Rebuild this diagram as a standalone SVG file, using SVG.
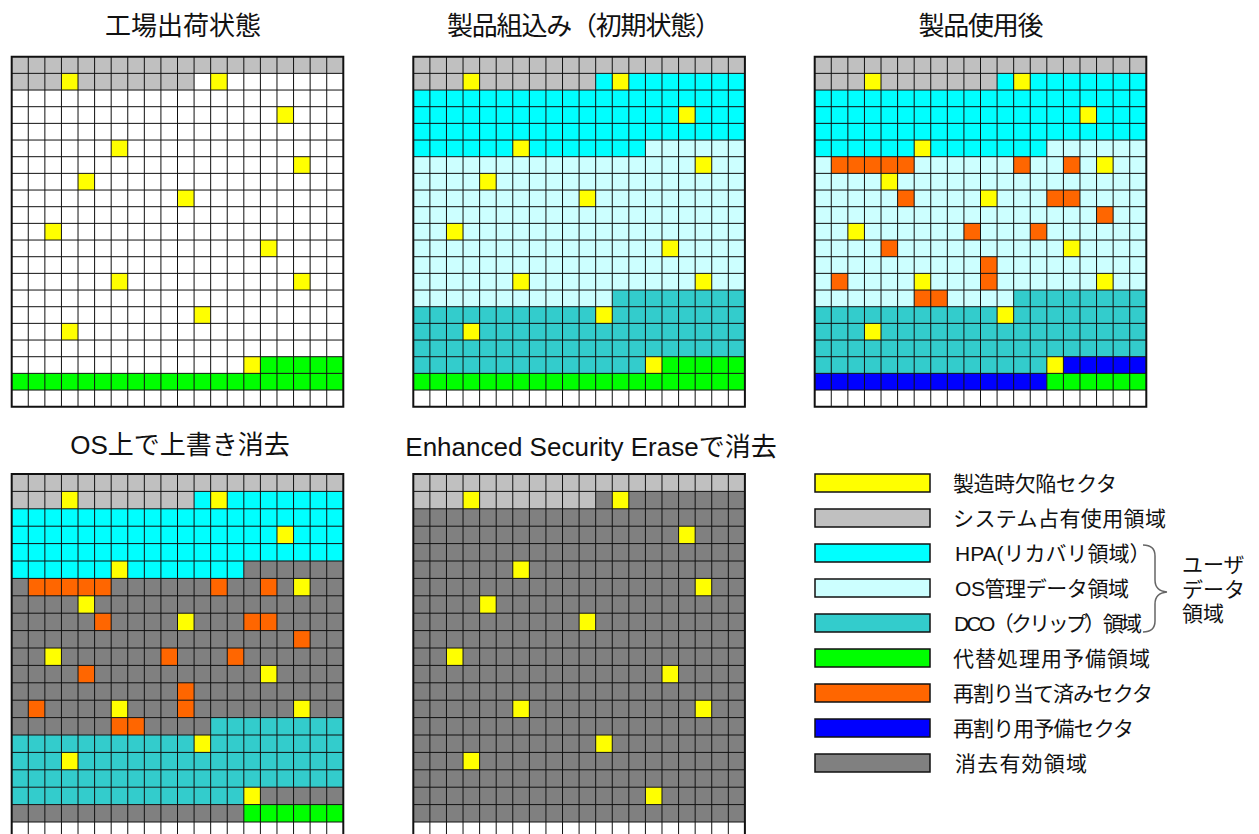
<svg xmlns="http://www.w3.org/2000/svg" xmlns:xlink="http://www.w3.org/1999/xlink" width="1259" height="834" viewBox="0 0 1259 834">
<style>
.t{font-family:"Liberation Sans","Noto Sans CJK JP",sans-serif;fill:#111}
.title{font-size:26px;text-anchor:middle}
.lg{font-size:21px}
.gl{fill:none;stroke:#111;stroke-width:1}
.bd{fill:none;stroke:#111;stroke-width:2}
.w{fill:#FFFFFF}.y{fill:#FFFF00}.g{fill:#C0C0C0}.c{fill:#00FFFF}.lc{fill:#CCFFFF}.tl{fill:#33CCCC}.gr{fill:#00FF00}.o{fill:#FF6600}.b{fill:#0000FF}.d{fill:#808080}
.sw{stroke:#111;stroke-width:1.5}
.brace{fill:none;stroke:#666;stroke-width:1.5}
</style>
<defs>
<path id="lines" class="gl" vector-effect="non-scaling-stroke" d="M0,1H20M0,2H20M0,3H20M0,4H20M0,5H20M0,6H20M0,7H20M0,8H20M0,9H20M0,10H20M0,11H20M0,12H20M0,13H20M0,14H20M0,15H20M0,16H20M0,17H20M0,18H20M0,19H20M0,20H20M1,0V21M2,0V21M3,0V21M4,0V21M5,0V21M6,0V21M7,0V21M8,0V21M9,0V21M10,0V21M11,0V21M12,0V21M13,0V21M14,0V21M15,0V21M16,0V21M17,0V21M18,0V21M19,0V21"/>
<rect id="border" class="bd" vector-effect="non-scaling-stroke" width="20" height="21"/>
<g id="defects" class="y">
<rect x="3" y="1" width="1" height="1"/><rect x="12" y="1" width="1" height="1"/><rect x="16" y="3" width="1" height="1"/><rect x="6" y="5" width="1" height="1"/><rect x="17" y="6" width="1" height="1"/><rect x="4" y="7" width="1" height="1"/><rect x="10" y="8" width="1" height="1"/><rect x="2" y="10" width="1" height="1"/><rect x="15" y="11" width="1" height="1"/><rect x="6" y="13" width="1" height="1"/><rect x="17" y="13" width="1" height="1"/><rect x="11" y="15" width="1" height="1"/><rect x="3" y="16" width="1" height="1"/><rect x="14" y="18" width="1" height="1"/>
</g>
<g id="remap" class="o">
<rect x="1" y="6" width="5" height="1"/><rect x="12" y="6" width="1" height="1"/><rect x="15" y="6" width="1" height="1"/><rect x="5" y="8" width="1" height="1"/><rect x="14" y="8" width="2" height="1"/><rect x="17" y="9" width="1" height="1"/><rect x="9" y="10" width="1" height="1"/><rect x="13" y="10" width="1" height="1"/><rect x="4" y="11" width="1" height="1"/><rect x="10" y="12" width="1" height="1"/><rect x="1" y="13" width="1" height="1"/><rect x="10" y="13" width="1" height="1"/><rect x="6" y="14" width="2" height="1"/>
</g>
</defs>

<g id="titles" class="t">
<text class="title" x="183" y="35">工場出荷状態</text>
<text class="title" x="584" y="35" textLength="274">製品組込み（初期状態）</text>
<text class="title" x="981" y="35" textLength="125">製品使用後</text>
<text class="title" x="180" y="454">OS上で上書き消去</text>
<text class="title" x="591" y="456">Enhanced Security Eraseで消去</text>
</g>

<g id="grid-factory" transform="translate(11.7,56.7) scale(16.58,16.667)">
<rect class="w" width="20" height="21"/>
<rect class="g" width="20" height="1"/>
<rect class="g" y="1" width="11" height="1"/>
<rect class="gr" x="15" y="18" width="5" height="1"/>
<rect class="gr" y="19" width="20" height="1"/>
<use xlink:href="#defects"/>
<use xlink:href="#lines"/>
<use xlink:href="#border"/>
</g>

<g id="grid-initial" transform="translate(413.3,56.7) scale(16.58,16.667)">
<rect class="w" width="20" height="21"/>
<rect class="g" width="20" height="1"/>
<rect class="g" y="1" width="11" height="1"/>
<rect class="c" x="11" y="1" width="9" height="1"/>
<rect class="c" y="2" width="20" height="3"/>
<rect class="c" y="5" width="14" height="1"/>
<rect class="lc" x="14" y="5" width="6" height="1"/>
<rect class="lc" y="6" width="20" height="8"/>
<rect class="lc" y="14" width="12" height="1"/>
<rect class="tl" x="12" y="14" width="8" height="1"/>
<rect class="tl" y="15" width="20" height="3"/>
<rect class="tl" y="18" width="15" height="1"/>
<rect class="gr" x="15" y="18" width="5" height="1"/>
<rect class="gr" y="19" width="20" height="1"/>
<use xlink:href="#defects"/>
<use xlink:href="#lines"/>
<use xlink:href="#border"/>
</g>

<g id="grid-used" transform="translate(814.7,56.7) scale(16.58,16.667)">
<rect class="w" width="20" height="21"/>
<rect class="g" width="20" height="1"/>
<rect class="g" y="1" width="11" height="1"/>
<rect class="c" x="11" y="1" width="9" height="1"/>
<rect class="c" y="2" width="20" height="3"/>
<rect class="c" y="5" width="14" height="1"/>
<rect class="lc" x="14" y="5" width="6" height="1"/>
<rect class="lc" y="6" width="20" height="8"/>
<rect class="lc" y="14" width="12" height="1"/>
<rect class="tl" x="12" y="14" width="8" height="1"/>
<rect class="tl" y="15" width="20" height="3"/>
<rect class="tl" y="18" width="15" height="1"/>
<rect class="b" x="15" y="18" width="5" height="1"/>
<rect class="b" y="19" width="14" height="1"/>
<rect class="gr" x="14" y="19" width="6" height="1"/>
<use xlink:href="#remap"/>
<use xlink:href="#defects"/>
<use xlink:href="#lines"/>
<use xlink:href="#border"/>
</g>

<g id="grid-os-overwrite" transform="translate(11.7,474) scale(16.58,17.4)">
<rect class="w" width="20" height="21"/>
<rect class="g" width="20" height="1"/>
<rect class="g" y="1" width="11" height="1"/>
<rect class="c" x="11" y="1" width="9" height="1"/>
<rect class="c" y="2" width="20" height="3"/>
<rect class="c" y="5" width="14" height="1"/>
<rect class="d" x="14" y="5" width="6" height="1"/>
<rect class="d" y="6" width="20" height="8"/>
<rect class="d" y="14" width="12" height="1"/>
<rect class="tl" x="12" y="14" width="8" height="1"/>
<rect class="tl" y="15" width="20" height="3"/>
<rect class="tl" y="18" width="15" height="1"/>
<rect class="d" x="15" y="18" width="5" height="1"/>
<rect class="d" y="19" width="14" height="1"/>
<rect class="gr" x="14" y="19" width="6" height="1"/>
<use xlink:href="#remap"/>
<use xlink:href="#defects"/>
<use xlink:href="#lines"/>
<use xlink:href="#border"/>
</g>

<g id="grid-secure-erase" transform="translate(413.3,474) scale(16.58,17.4)">
<rect class="w" width="20" height="21"/>
<rect class="g" width="20" height="1"/>
<rect class="g" y="1" width="11" height="1"/>
<rect class="d" x="11" y="1" width="9" height="1"/>
<rect class="d" y="2" width="20" height="18"/>
<use xlink:href="#defects"/>
<use xlink:href="#lines"/>
<use xlink:href="#border"/>
</g>

<g id="legend" class="t">
<g id="lg-defect"><rect class="y sw" x="815" y="474" width="115" height="18"/><text class="t lg" x="953" y="490.5" textLength="164">製造時欠陥セクタ</text></g>
<g id="lg-system"><rect class="g sw" x="815" y="509" width="115" height="18"/><text class="t lg" x="953" y="525.5" textLength="213">システム占有使用領域</text></g>
<g id="lg-hpa"><rect class="c sw" x="815" y="544" width="115" height="18"/><text class="t lg" x="955" y="560.5">HPA(リカバリ領域）</text></g>
<g id="lg-os"><rect class="lc sw" x="815" y="579" width="115" height="18"/><text class="t lg" x="955" y="595.5" textLength="174">OS管理データ領域</text></g>
<g id="lg-dco"><rect class="tl sw" x="815" y="614" width="115" height="18"/><text class="t lg" x="954" y="630.5" textLength="188">DCO（クリップ）領域</text></g>
<g id="lg-spare"><rect class="gr sw" x="815" y="649" width="115" height="18"/><text class="t lg" x="953" y="665.5" textLength="197">代替処理用予備領域</text></g>
<g id="lg-remapped"><rect class="o sw" x="815" y="684" width="115" height="18"/><text class="t lg" x="953" y="700.5" textLength="200">再割り当て済みセクタ</text></g>
<g id="lg-remap-spare"><rect class="b sw" x="815" y="719" width="115" height="18"/><text class="t lg" x="953" y="735.5" textLength="181">再割り用予備セクタ</text></g>
<g id="lg-erased"><rect class="d sw" x="815" y="754" width="115" height="18"/><text class="t lg" x="955" y="770.5" textLength="132">消去有効領域</text></g>
<g id="lg-userdata">
<text class="t lg" x="1182" y="572">ユーザ</text>
<text class="t lg" x="1182" y="597">データ</text>
<text class="t lg" x="1182" y="621">領域</text>
</g>
</g>

<g id="connectors">
<path class="brace" d="M1143,545 Q1155,545 1155,556 V580 Q1155,591 1167,592 Q1155,593 1155,604 V621 Q1155,632 1143,632"/>
</g>
</svg>
